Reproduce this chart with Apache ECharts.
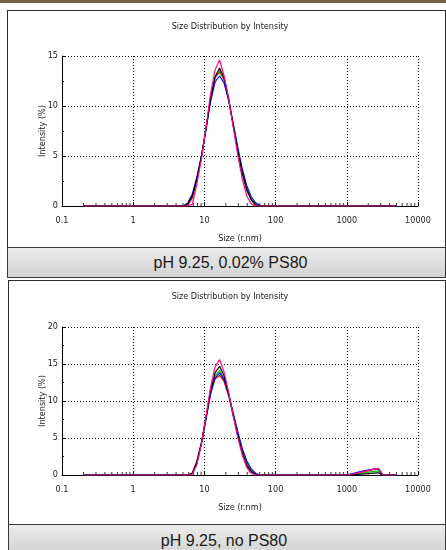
<!DOCTYPE html>
<html>
<head>
    <meta charset="utf-8">
    <title>Size Distribution by Intensity</title>
    <script src="https://cdn.jsdelivr.net/npm/echarts@6/dist/echarts.min.js"></script>
    <style>
        body { margin: 0; width: 446px; height: 550px; overflow: hidden; background: #fff; position: relative; }
        .panel { position: absolute; border: 1px solid #2b2b2b; background: #fff; }
        .caption {
            position: absolute; border: 1px solid #3a3a3a; box-sizing: border-box;
            background: linear-gradient(#ececec, #d2d2d2);
            font-family: "Liberation Sans", Arial, sans-serif; font-size: 16px; color: #1a1a1a;
            text-align: center;
        }
    </style>
</head>
<body>
<!-- top strip -->
<div style="position:absolute;left:0;top:0;width:446px;height:3px;background:#76603f;"></div>

<div class="panel" style="left:7px;top:10px;width:437px;height:237px;"></div>
<div class="caption" style="left:7px;top:247px;width:439px;height:31px;line-height:30px;padding-left:8px;">pH 9.25, 0.02% PS80</div>

<div class="panel" style="left:8px;top:280px;width:436px;height:244px;"></div>
<div class="caption" style="left:8px;top:524px;width:438px;height:32px;line-height:31px;padding-right:6px;">pH 9.25, no PS80</div>

<div id="chart" style="position:absolute;left:0;top:0;width:446px;height:550px;"></div>

<script type="text/javascript">
    // size classes (r.nm) that carry the curves, plus the end points of the range
    var sizeNm = [0.2, 5.049, 5.847, 6.771, 7.842, 9.081, 10.52, 12.18, 14.1, 16.33,
        18.91, 21.9, 25.37, 29.38, 34.02, 39.4, 45.63, 52.84, 61.19, 70.87,
        994.9, 1152, 1334, 1545, 1790, 2073, 2400, 2780, 3219, 3728, 5000];

    var xTickLabels = ['0.1', '1', '10', '100', '1000', '10000'];
    var xMinorTicks = [0.2, 0.3, 0.4, 0.5, 0.6, 0.7, 0.8, 0.9,
        2, 3, 4, 5, 6, 7, 8, 9,
        20, 30, 40, 50, 60, 70, 80, 90,
        200, 300, 400, 500, 600, 700, 800, 900,
        2000, 3000, 4000, 5000, 6000, 7000, 8000, 9000];

    // top panel: pH 9.25, 0.02% PS80
    var p1Red     = [0, 0, 0.1, 0.8, 2.6, 4.9, 7.8, 10.8, 12.8, 13.4, 12.6, 10.6, 8.1, 5.6, 3.3, 1.6, 0.6, 0.1, 0, 0, 0, 0, 0, 0, 0, 0, 0, 0, 0, 0, 0];
    var p1Green   = [0, 0, 0.2, 1.0, 2.7, 4.9, 7.7, 10.7, 12.8, 13.6, 12.7, 10.6, 8.1, 5.6, 3.4, 1.7, 0.7, 0.2, 0, 0, 0, 0, 0, 0, 0, 0, 0, 0, 0, 0, 0];
    var p1Blue    = [0, 0, 0.3, 1.2, 2.9, 5.0, 7.6, 10.4, 12.4, 13.0, 12.3, 10.6, 8.3, 5.9, 3.7, 2.0, 0.9, 0.3, 0.05, 0, 0, 0, 0, 0, 0, 0, 0, 0, 0, 0, 0];
    var p1Black   = [0, 0, 0.2, 1.0, 2.7, 4.9, 7.7, 10.7, 12.9, 13.8, 12.8, 10.7, 8.1, 5.6, 3.3, 1.6, 0.6, 0.1, 0, 0, 0, 0, 0, 0, 0, 0, 0, 0, 0, 0, 0];
    var p1Magenta = [0, 0, 0, 0.2, 2.2, 4.7, 7.8, 11.2, 13.6, 14.6, 13.0, 10.8, 7.9, 5.1, 2.7, 1.0, 0.2, 0, 0, 0, 0, 0, 0, 0, 0, 0, 0, 0, 0, 0, 0];

    // bottom panel: pH 9.25, no PS80
    var p2Red     = [0, 0, 0, 0.3, 1.9, 4.4, 7.7, 11.0, 13.0, 13.45, 12.6, 10.7, 8.2, 5.6, 3.3, 1.6, 0.6, 0.1, 0, 0, 0, 0.05, 0.15, 0.3, 0.45, 0.6, 0.75, 0.85, 0, 0, 0];
    var p2Green   = [0, 0, 0, 0.2, 1.7, 4.3, 7.7, 11.1, 13.4, 14.1, 13.0, 10.8, 8.1, 5.5, 3.2, 1.5, 0.5, 0.1, 0, 0, 0, 0.05, 0.1, 0.2, 0.3, 0.4, 0.5, 0.55, 0, 0, 0];
    var p2Blue    = [0, 0, 0, 0.2, 1.6, 4.2, 7.5, 10.9, 13.1, 13.8, 12.9, 10.9, 8.4, 5.9, 3.6, 1.9, 0.8, 0.2, 0, 0, 0, 0.15, 0.3, 0.45, 0.6, 0.7, 0.8, 0.85, 0, 0, 0];
    var p2Black   = [0, 0, 0, 0.2, 1.7, 4.3, 7.8, 11.4, 13.8, 14.7, 13.4, 11.0, 8.1, 5.4, 3.0, 1.3, 0.4, 0.1, 0, 0, 0, 0.02, 0.05, 0.1, 0.15, 0.2, 0.25, 0.3, 0, 0, 0];
    var p2Magenta = [0, 0, 0, 0.1, 1.4, 4.2, 7.9, 11.8, 14.6, 15.6, 13.9, 11.2, 8.0, 5.1, 2.7, 1.0, 0.2, 0, 0, 0, 0, 0.1, 0.2, 0.35, 0.5, 0.65, 0.8, 0.9, 0, 0, 0];

    var lineColors = ['#ff0000', '#00c000', '#0000ff', '#000000', '#ff0a84'];
    var font = '"Liberation Sans Narrow", "DejaVu Sans Condensed", "Liberation Sans", Arial, sans-serif';

    function pairs(vals) {
        return sizeNm.map(function (s, i) { return [s, vals[i]]; });
    }

    function xAxisFor(g) {
        return {
            type: 'log', logBase: 10, min: 0.1, max: 10000, gridIndex: g,
            name: 'Size (r.nm)', nameLocation: 'middle', nameGap: 28,
            nameTextStyle: { fontFamily: font, fontSize: 9, color: '#222' },
            axisLine: { onZero: false, lineStyle: { color: '#000', width: 1 } },
            axisTick: { inside: true, length: 4, lineStyle: { color: '#000' } },
            axisLabel: {
                margin: 10, fontFamily: font, fontSize: 9, color: '#222',
                formatter: function (v) { return xTickLabels[Math.round(Math.log10(v)) + 1]; }
            },
            splitLine: { show: true, lineStyle: { color: '#000', type: [1, 2], width: 1 } }
        };
    }

    function yAxisFor(g, max) {
        return {
            type: 'value', min: 0, max: max, interval: 5, gridIndex: g,
            name: 'Intensity (%)', nameLocation: 'middle', nameGap: 15, nameRotate: 90,
            nameMoveOverlap: false,
            nameTextStyle: { fontFamily: font, fontSize: 9, color: '#222' },
            axisLine: { show: true, lineStyle: { color: '#000', width: 1 } },
            axisTick: { show: true, inside: true, length: 3, lineStyle: { color: '#000' } },
            minorTick: { show: true, splitNumber: 2, length: 2, lineStyle: { color: '#000' } },
            axisLabel: { margin: 4, fontFamily: font, fontSize: 9, color: '#222' },
            splitLine: { show: true, lineStyle: { color: '#000', type: [1, 2], width: 1 } }
        };
    }

    var panels = [
        [p1Red, p1Green, p1Blue, p1Black, p1Magenta],
        [p2Red, p2Green, p2Blue, p2Black, p2Magenta]
    ];

    var series = [];
    panels.forEach(function (set, g) {
        set.forEach(function (vals, k) {
            series.push({
                type: 'line', xAxisIndex: g, yAxisIndex: g, data: pairs(vals),
                showSymbol: false, silent: true, animation: false,
                lineStyle: { color: lineColors[k], width: 1.2 }
            });
        });
        // log minor ticks on the size axis
        series.push({
            type: 'scatter', xAxisIndex: g, yAxisIndex: g, silent: true, animation: false,
            data: xMinorTicks.map(function (v) { return [v, 0]; }),
            symbol: 'rect', symbolSize: [1, 3], symbolOffset: [0, -1.5],
            itemStyle: { color: '#000' }, z: 1
        });
    });

    var myChart = echarts.init(document.getElementById('chart'), null, { renderer: 'canvas' });
    var option = {
        animation: false,
        grid: [
            { left: 62, top: 56, width: 356, height: 150 },
            { left: 62, top: 327, width: 356, height: 148 }
        ],
        xAxis: [xAxisFor(0), xAxisFor(1)],
        yAxis: [yAxisFor(0, 15), yAxisFor(1, 20)],
        graphic: [
            { type: 'text', x: 230, y: 27, style: { text: 'Size Distribution by Intensity', align: 'center', verticalAlign: 'middle', font: '9px ' + font, fill: '#222' } },
            { type: 'text', x: 230, y: 297, style: { text: 'Size Distribution by Intensity', align: 'center', verticalAlign: 'middle', font: '9px ' + font, fill: '#222' } }
        ],
        series: series
    };
    myChart.setOption(option, true);
</script>
</body>
</html>
